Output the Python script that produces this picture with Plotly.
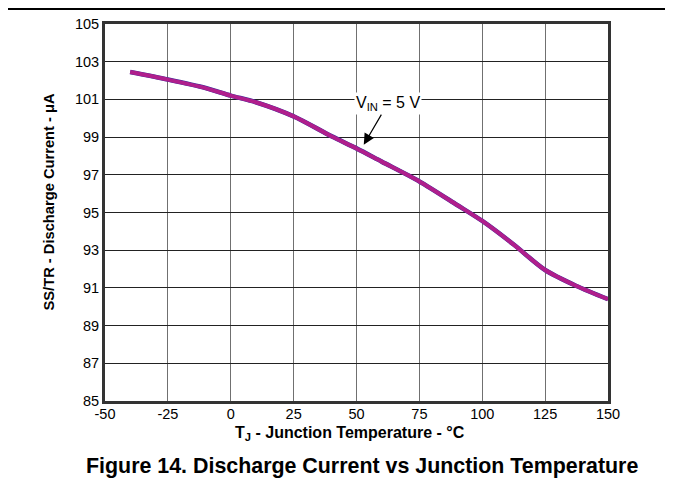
import plotly.graph_objects as go

temp_c = [-40, -25, -10, 0, 10, 25, 40, 50, 60, 75, 90, 100, 112.5, 125, 137.5, 150]
current_ua = [102.45, 102.05, 101.6, 101.2, 100.85, 100.1, 99.05, 98.4, 97.7, 96.65, 95.4, 94.55, 93.3, 91.95, 91.1, 90.4]

x_ticks = [-50, -25, 0, 25, 50, 75, 100, 125, 150]
y_ticks = [85, 87, 89, 91, 93, 95, 97, 99, 101, 103, 105]

FONT = "Liberation Sans, Arial, sans-serif"

fig = go.Figure()
fig.add_trace(go.Scatter(x=temp_c, y=current_ua, mode="lines",
                         line=dict(color="#3a2f9a", width=4.6, shape="spline", smoothing=0.8),
                         hoverinfo="skip", showlegend=False))
fig.add_trace(go.Scatter(x=temp_c, y=current_ua, mode="lines",
                         line=dict(color="#b01e8c", width=4, shape="spline", smoothing=0.8),
                         showlegend=False))

fig.update_layout(
    width=665, height=491,
    margin=dict(l=97, r=65, t=16, b=98),
    paper_bgcolor="white", plot_bgcolor="white",
    font=dict(family=FONT, color="black", size=14),
    showlegend=False,
)
fig.update_xaxes(range=[-50, 150], tickvals=x_ticks, ticktext=[str(v) for v in x_ticks],
                 showgrid=True, gridcolor="#707070", gridwidth=1.2,
                 showline=True, linecolor="#333333", linewidth=3, mirror=True,
                 ticks="", zeroline=False, tickfont=dict(size=14.5), automargin=False,
                 ticklabelstandoff=-2)
fig.update_yaxes(range=[85, 105], tickvals=y_ticks, ticktext=[str(v) for v in y_ticks],
                 showgrid=True, gridcolor="#222222", gridwidth=1.2,
                 showline=True, linecolor="#333333", linewidth=3, mirror=True,
                 ticks="", zeroline=False, tickfont=dict(size=14.5), automargin=False)

# axis titles
fig.add_annotation(x=(350 - 105) / 503, y=0, xref="paper", yref="paper", showarrow=False,
                   yshift=-32, yanchor="middle", xanchor="center",
                   text="<b>T<sub>J</sub> - Junction Temperature - °C</b>",
                   font=dict(size=16, family=FONT, color="black"))
fig.add_annotation(x=(48 - 105) / 503, y=0.5, xref="paper", yref="paper", showarrow=False,
                   yshift=10, textangle=-90, xanchor="center", yanchor="middle",
                   text="<b>SS/TR - Discharge Current - μA</b>",
                   font=dict(size=14.7, family=FONT, color="black"))

fig.add_annotation(x=52.9, y=98.6, xref="x", yref="y",
                   text="V<sub>IN</sub> = 5 V", showarrow=True,
                   ax=24, ay=-41, arrowhead=2, arrowsize=1.8, arrowwidth=1.2,
                   arrowcolor="black", bgcolor="white",
                   font=dict(size=16, family=FONT, color="black"))

fig.add_annotation(x=0.5, y=-0.21, xref="paper", yref="paper", showarrow=False,
                   xshift=5,
                   text="<b>Figure 14. Discharge Current vs Junction Temperature</b>",
                   font=dict(size=21.4, family=FONT, color="black"))

fig.add_shape(type="line", xref="paper", yref="paper", x0=-0.25, x1=1.1213, y0=1.0398, y1=1.0398,
              line=dict(color="black", width=2))
fig.add_shape(type="line", xref="paper", yref="paper", x0=1.1213, x1=1.1213, y0=1.0398, y1=-0.3,
              line=dict(color="black", width=1.5))

fig.write_html("out.html")
